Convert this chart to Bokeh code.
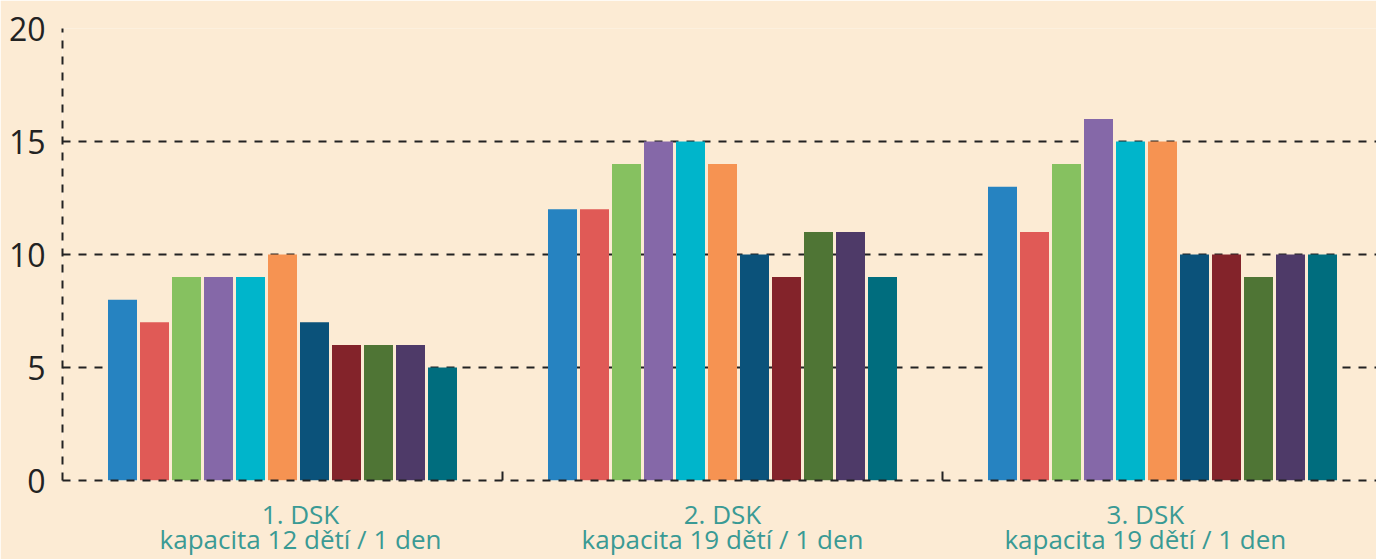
from bokeh.plotting import figure
from bokeh.models import Range1d, FixedTicker, ColumnDataSource, LinearAxis
from bokeh.embed import file_html
from bokeh.resources import INLINE

# ---- data ----
group_names = ["1. DSK", "2. DSK", "3. DSK"]
group_capacity = ["kapacita 12 dětí / 1 den",
                  "kapacita 19 dětí / 1 den",
                  "kapacita 19 dětí / 1 den"]
series_colors = ["#2683C1", "#E05A56", "#86C160", "#8568A8", "#00B5CB", "#F69352",
                 "#0B527A", "#83232A", "#4F7535", "#4E3A68", "#006D7E"]
values_dsk1 = [8, 7, 9, 9, 9, 10, 7, 6, 6, 6, 5]
values_dsk2 = [12, 12, 14, 15, 15, 14, 10, 9, 11, 11, 9]
values_dsk3 = [13, 11, 14, 16, 15, 15, 10, 10, 9, 10, 10]
y_ticks = [0, 5, 10, 15, 20]

# ---- layout constants ----
BG = "#FCEBD4"
SLOT = 32 / 440.0
BAR_W = 29 / 440.0
LABEL_POS = [0.541, 1.5, 2.461]
TEXT = "#222222"
TEAL = "#3A9A94"

all_values = [values_dsk1, values_dsk2, values_dsk3]
xs, tops, cols = [], [], []
n = len(series_colors)
for gi, vals in enumerate(all_values):
    for j, v in enumerate(vals):
        xs.append(gi + 0.5 + (j - (n - 1) / 2) * SLOT)
        tops.append(v)
        cols.append(series_colors[j])
src = ColumnDataSource(dict(x=xs, top=tops, color=cols))

p = figure(width=1376, height=559, output_backend="svg", toolbar_location=None,
           x_range=Range1d(0, 1314 / 440.0), y_range=Range1d(0, 20),
           min_border_left=62, min_border_top=28, min_border_right=0, min_border_bottom=79)
p.background_fill_color = BG
p.border_fill_color = BG
p.outline_line_color = None

p.vbar(x="x", top="top", bottom=0, width=BAR_W, color="color", source=src, line_color=None)

# grids
p.xgrid.grid_line_color = None
p.ygrid.ticker = FixedTicker(ticks=y_ticks)
p.ygrid.grid_line_color = TEXT
p.ygrid.grid_line_width = 2
p.ygrid.grid_line_dash = "8 8"

# y axis
p.yaxis.ticker = FixedTicker(ticks=y_ticks)
p.yaxis.axis_line_color = TEXT
p.yaxis.axis_line_width = 2
p.yaxis.axis_line_dash = "8 8"
p.yaxis.major_tick_line_color = None
p.yaxis.minor_tick_line_color = None
p.yaxis.major_label_text_font = "Open Sans"
p.yaxis.major_label_text_font_size = "32px"
p.yaxis.major_label_text_color = TEXT
p.yaxis.major_label_standoff = 11

# x axis (first line of labels)
xa = p.xaxis[0]
xa.ticker = FixedTicker(ticks=LABEL_POS, minor_ticks=[1.0, 2.0])
xa.major_label_overrides = {LABEL_POS[i]: group_names[i] for i in range(3)}
xa.axis_line_color = TEXT
xa.axis_line_width = 2
xa.axis_line_dash = "8 8"
xa.major_tick_line_color = None
xa.major_tick_out = 0
xa.major_tick_in = 0
xa.minor_tick_line_color = TEXT
xa.minor_tick_line_width = 2
xa.minor_tick_in = 9
xa.minor_tick_out = 0
xa.axis_label_standoff = 0
xa.major_label_text_font = "Open Sans"
xa.major_label_text_font_size = "26px"
xa.major_label_text_color = TEAL
xa.major_label_standoff = 15

# second line of labels
xa2 = LinearAxis(ticker=FixedTicker(ticks=LABEL_POS, minor_ticks=[]))
xa2.major_label_overrides = {LABEL_POS[i]: group_capacity[i] for i in range(3)}
xa2.axis_line_color = None
xa2.major_tick_line_color = None
xa2.major_tick_out = 0
xa2.major_tick_in = 0
xa2.minor_tick_line_color = None
xa2.minor_tick_out = 0
xa2.minor_tick_in = 0
xa2.axis_label_standoff = 0
xa2.major_label_text_font = "Open Sans"
xa2.major_label_text_font_size = "26px"
xa2.major_label_text_color = TEAL
xa2.major_label_standoff = -14
p.add_layout(xa2, "below")

open("out.html", "w").write(file_html(p, INLINE))
